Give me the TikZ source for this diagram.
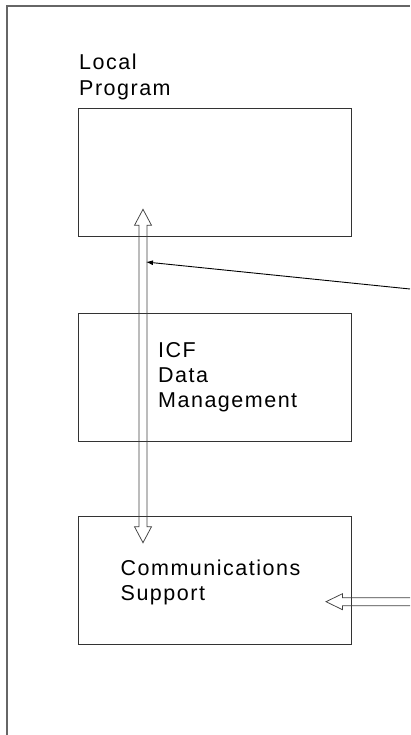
\documentclass[tikz,border=0pt]{standalone}
\usepackage{fontspec}
\setmainfont{Liberation Sans}[LetterSpace=7]
\usetikzlibrary{arrows.meta,positioning,calc}

\begin{document}
\begin{tikzpicture}[
  x=1pt, y=-1pt,
  font=\fontsize{21.5}{25.2}\selectfont,
  blk/.style={draw=black!80,line width=0.8pt,minimum width=273pt,minimum height=128pt,inner sep=0pt},
  lbl/.style={align=left,inner sep=0pt,anchor=base west},
  hollow/.style={draw=black!75,line width=0.75pt}
]
\useasboundingbox (0,0) rectangle (410,735);
% page frame, open on the right and at the bottom
\draw[black!60,line width=2pt] (7,735) -- (7,6.5) -- (410,6.5);

\node[blk] (prog) at (215.2,172.5) {};
\node[blk,below=76pt of prog] (icf) {};
\node[blk,below=74pt of icf] (comm) {};

% base west sits on the last line
\node[lbl] (progtxt) at (79,95.2) {Local\\Program};
\node[lbl] (icftxt) at (158,407.8) {ICF\\Data\\Management};
\node[lbl] (commtxt) at (120.5,600.8) {Communications\\Support};

\coordinate (up) at (143,209.3);
\coordinate (down) at (143,542.7);
\coordinate (ctl) at (146,262);
\coordinate (ctlin) at (410,289);
\coordinate (link) at (326,601.7);
\coordinate (linkin) at (410,601.7);

% hollow two-way arrow: shaft 8pt wide, heads 17pt wide and 16pt long
\draw[hollow] (up) -- ++(8.5,16) -- ++(-4.5,0) -- ($(down)+(4,-16)$) -- ++(4.5,0)
  -- (down) -- ++(-8.5,-16) -- ++(4.5,0) -- ($(up)+(-4,16)$) -- ++(-4.5,0) -- cycle;
\draw[black,line width=0.9pt,-{Latex[length=7pt,width=5pt]}] (ctlin) -- (ctl);
% hollow arrow coming in from the right
\draw[hollow] ($(linkin)+(0,-4)$) -- ($(link)+(16.5,-4)$) -- ++(0,-4) -- (link)
  -- ++(16.5,8) -- ++(0,-4) -- ($(linkin)+(0,4)$);
\end{tikzpicture}
\end{document}
